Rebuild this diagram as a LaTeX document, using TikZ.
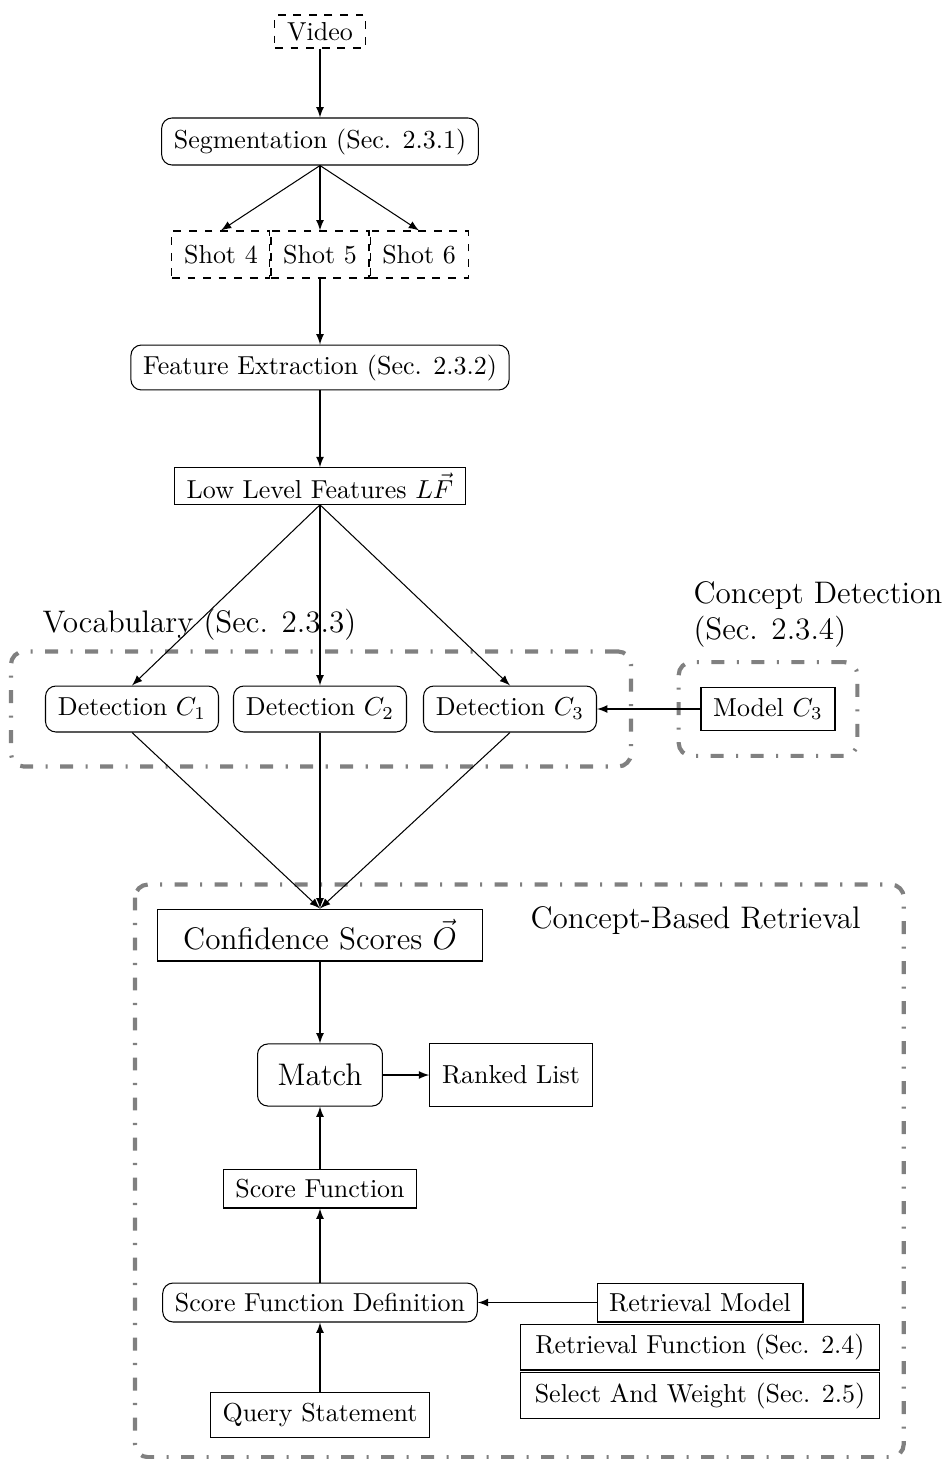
\documentclass[tikz,border=0pt]{standalone}
\usetikzlibrary{fit,calc}
\begin{document}
\begin{tikzpicture}[x=0.385pt,y=-0.385pt,
  box/.style={draw, inner xsep=4.7pt, inner ysep=0pt, line width=0.4pt},
  rbox/.style={box, rounded corners=4pt},
  dbox/.style={box, dashed},
  group/.style={draw=gray, line width=1.6pt, rounded corners=5pt,
                dash pattern=on 5pt off 4.8pt on 0.8pt off 4.8pt},
  arr/.style={-latex},
  grouplabel/.style={font=\large, inner sep=0pt},
]
\useasboundingbox (0,0) rectangle (951,1459);

% --- acquisition chain ---
\node[dbox, minimum height=12.7pt] (video) at (320,31.5) {Video};
\node[rbox, minimum height=18.1pt] (seg) at (320,141.5) {Segmentation (Sec. 2.3.1)};
\node[dbox, minimum height=18.1pt, minimum width=37.2pt] (shot5) at (320,254.5) {Shot 5};
\node[dbox, minimum height=18.1pt, minimum width=37.2pt, anchor=east] (shot4) at (shot5.west) {Shot 4};
\node[dbox, minimum height=18.1pt, minimum width=37.2pt, anchor=west] (shot6) at (shot5.east) {Shot 6};
\node[rbox, minimum height=17.3pt] (feat) at (320,367.5) {Feature Extraction (Sec. 2.3.2)};
\node[box, minimum height=14.1pt] (llf) at (320,486) {Low Level Features $L\vec{F}$};

% --- concept detectors ---
\node[rbox, minimum height=17.7pt, minimum width=66.6pt] (det1) at (132,709) {Detection $C_1$};
\node[rbox, minimum height=17.7pt, minimum width=66.6pt] (det2) at (320,709) {Detection $C_2$};
\node[rbox, minimum height=17.7pt, minimum width=66.6pt] (det3) at (510,709) {Detection $C_3$};
\node[box, minimum height=16.9pt] (model) at (768,709) {Model $C_3$};

% --- retrieval ---
\node[box, font=\large, minimum height=20pt, minimum width=125.1pt] (conf) at (320,935) {Confidence Scores $\vec{O}$\hspace{7.9pt}};
\node[rbox, font=\large, minimum height=23.9pt, minimum width=48.1pt] (match) at (320,1075) {Match};
\node[box, minimum height=23.9pt] (ranked) at (511,1075) {Ranked List};
\node[box, minimum height=15pt] (scoref) at (320,1188.5) {Score Function};
\node[rbox, minimum height=15pt] (sfd) at (320,1302.5) {Score Function Definition};
\node[box, minimum height=15pt] (retmodel) at (700,1302.5) {Retrieval Model};
\node[box, minimum height=17.7pt, minimum width=138.4pt] (retfunc) at (700,1347) {Retrieval Function (Sec. 2.4)};
\node[box, minimum height=17.7pt, minimum width=138.4pt, anchor=north] (select) at ([yshift=-0.6pt]retfunc.south) {Select And Weight (Sec. 2.5)};
\node[box, minimum height=17.2pt] (query) at (320,1415) {Query Statement};

% --- grouping frames and their titles ---
\node[group, fit=(det1)(det3), inner sep=13.1pt] (vocab) {};
\node[group, fit=(model), inner xsep=8.4pt, inner ysep=9.4pt] (cdet) {};
\draw[group] ($(conf.north west)+(-22,-24)$) rectangle ($(select.east |- query.south)+(23.5,19.3)$);

\node[grouplabel, anchor=base west] (vocablabel) at (42,632) {Vocabulary (Sec. 2.3.3)};
\node[grouplabel, align=left, anchor=south west] (cdetlabel) at (693,648) {Concept Detection\\(Sec. 2.3.4)};
\node[grouplabel, anchor=base] (cbrlabel) at (695.5,928) {Concept-Based Retrieval};

% --- connectors ---
\draw[arr] (video) -- (seg);
\foreach \s in {shot4,shot5,shot6} \draw[arr] (seg.south) -- (\s.north);
\draw[arr] (shot5) -- (feat);
\draw[arr] (feat) -- (llf);
\foreach \d in {det1,det2,det3} \draw[arr] (llf.south) -- (\d.north);
\foreach \d in {det1,det2,det3} \draw[arr] (\d.south) -- (conf.north);
\draw[arr] (model) -- (det3);
\draw[arr] (conf) -- (match);
\draw[arr] (match) -- (ranked);
\draw[arr] (scoref) -- (match);
\draw[arr] (sfd) -- (scoref);
\draw[arr] (query) -- (sfd);
\draw[arr] (retmodel) -- (sfd);
\end{tikzpicture}
\end{document}
